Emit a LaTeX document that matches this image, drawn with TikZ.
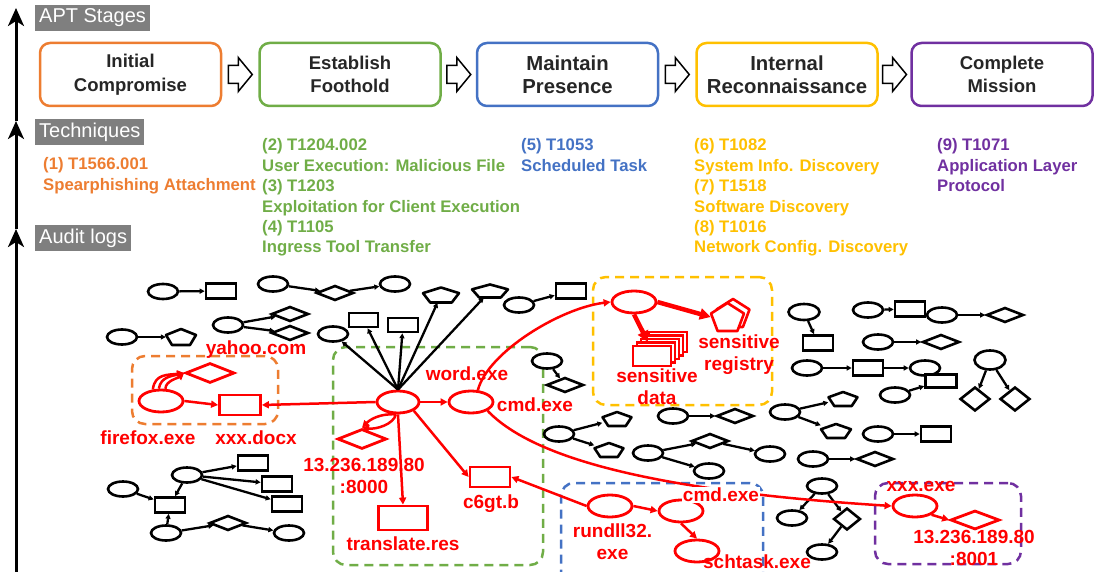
\documentclass[tikz,border=0pt]{standalone}
\usepackage{fontspec}
\setmainfont{Liberation Sans}
\usetikzlibrary{arrows.meta,shapes.geometric,calc}
\definecolor{cOr}{HTML}{ED7D31}
\definecolor{cGr}{HTML}{70AD47}
\definecolor{cBl}{HTML}{4472C4}
\definecolor{cYe}{HTML}{FFC000}
\definecolor{cPu}{HTML}{7030A0}
\definecolor{cRd}{HTML}{FF0000}
\definecolor{cGy}{HTML}{7F7F7F}
\definecolor{cTx}{HTML}{262626}
\tikzset{
 shp/.style={draw=black, line width=2.6pt, inner sep=0pt, fill=white},
 ell/.style={shp, ellipse, minimum width=30pt, minimum height=15pt},
 rec/.style={shp, rectangle, minimum width=30pt, minimum height=15pt},
 dia/.style={shp, diamond, minimum width=37pt, minimum height=15pt},
 rshp/.style={draw=cRd, line width=2.8pt, inner sep=0pt, fill=white},
 rell/.style={rshp, ellipse, minimum width=44pt, minimum height=22pt},
 rrec/.style={rshp, rectangle, minimum width=40pt, minimum height=20pt},
 rdia/.style={rshp, diamond, minimum width=49pt, minimum height=20pt},
 ed/.style={draw=black, line width=2.3pt, -{Triangle[length=5pt,width=5pt]}},
 redge/.style={draw=cRd, line width=2.5pt, -{Triangle[length=7pt,width=7pt]}},
 thk/.style={draw=cRd, line width=4.5pt, -{Triangle[length=11pt,width=11pt]}},
 lbl/.style={text=cRd, font=\fontsize{19}{22}\selectfont\bfseries, align=center, inner sep=0pt},
 stage/.style={draw=#1, line width=2.5pt, rounded corners=10pt, minimum width=181pt, minimum height=63pt, align=center, text=cTx, font=\fontsize{18.5}{23.5}\selectfont\bfseries},
 bigstage/.style={font=\fontsize{20.3}{23.5}\selectfont\bfseries},
 grp/.style={draw=#1, line width=2.5pt, rounded corners=13pt, dash pattern=on 9pt off 6pt, inner sep=0pt},
 gbox/.style={fill=cGy, text=white, font=\fontsize{20}{24}\selectfont, inner xsep=4pt, inner ysep=0pt, minimum height=26pt, anchor=west},
 tech/.style={text=#1, font=\fontsize{16.7}{20.4}\selectfont\bfseries, align=left, inner sep=0pt, anchor=north west},
 hollow/.style={draw=black, line width=1.5pt, fill=white, line join=miter},
 vaxis/.style={line width=3pt, -{Stealth[length=18pt,width=16pt,inset=5pt]}}
}
\newcommand\pentag[6]{%
 \node[inner sep=0pt, minimum width={2*#4}, minimum height={2*#5}] (#1) at (#2,#3) {};
 \draw[draw=#6, line width=2.6pt, line join=round, fill=white] (#1.center) ++(0,{-#5}) -- ++({#4},{0.75*#5}) -- ++({-0.4*#4},{1.25*#5}) -- ++({-1.2*#4},0) -- ++({-0.4*#4},{-1.25*#5}) -- cycle;}
\begin{document}
\begin{tikzpicture}[x=1pt,y=-1pt]
\useasboundingbox (0,0) rectangle (1095,572);
\clip (0,0) rectangle (1095,572);
% ---- axis ----
\coordinate (ax0) at (16,575);
\coordinate (ax1) at (16,229);
\coordinate (ax2) at (16,121);
\coordinate (ax3) at (16,8);
\draw[vaxis] (ax0) -- (ax1);
\draw[vaxis] (ax1) -- (ax2);
\draw[vaxis] (ax2) -- (ax3);
\node[gbox] (g1) at (35,18) {APT Stages};
\node[gbox] (g2) at (35,132) {Techniques};
\node[gbox] (g3) at (35,238) {Audit logs};
% ---- stages ----
\node[stage=cOr] (st1) at (130.5,74.5) {Initial\\Compromise};
\node[stage=cGr] (st2) at (350,74.5) {Establish\\Foothold};
\node[stage=cBl, bigstage] (st3) at (567.5,74.5) {Maintain\\Presence};
\node[stage=cYe, bigstage] (st4) at (787,74.5) {Internal\\Reconnaissance};
\node[stage=cPu] (st5) at (1002,74.5) {Complete\\Mission};
\foreach \a/\b in {st1/st2,st2/st3,st3/st4,st4/st5}{
 \draw[hollow] ($(\a.east)!0.5!(\b.west)$) ++(-12,-9) -- ++(10,0) -- ++(0,-8) -- ++(14,17) -- ++(-14,17) -- ++(0,-8) -- ++(-10,0) -- cycle;
}
% ---- techniques ----
\node[tech=cOr] (t1) at (43,157.5) {(1) T1566.001\\Spearphishing Attachment};
\node[tech=cGr] (t2) at (262,138.5) {(2) T1204.002\\User Execution: Malicious File\\(3) T1203\\Exploitation for Client Execution\\(4) T1105\\Ingress Tool Transfer};
\node[tech=cBl] (t3) at (521,138.5) {(5) T1053\\Scheduled Task};
\node[tech=cYe] (t4) at (694,138.5) {(6) T1082\\System Info. Discovery\\(7) T1518\\Software Discovery\\(8) T1016\\Network Config. Discovery};
\node[tech=cPu] (t5) at (937,138.5) {(9) T1071\\Application Layer\\Protocol};
% ---- groups ----
\node[grp=cOr, minimum width=146pt, minimum height=68pt] (gOr) at (205,390) {};
\node[grp=cGr, minimum width=210pt, minimum height=218pt] (gGr) at (438,456) {};
\node[grp=cYe, minimum width=179pt, minimum height=128pt] (gYe) at (682.5,341) {};
\node[grp=cBl, minimum width=202pt, minimum height=117pt] (gBl) at (662,541.5) {};
\node[grp=cPu, minimum width=146pt, minimum height=81pt] (gPu) at (948,523.5) {};
% ---- black audit-log graph ----
\node[ell] (a1) at (163,291.5) {};
\node[rec] (a2) at (221,291) {};
\node[ell] (b1) at (273,284) {};
\node[dia] (b2) at (335,293) {};
\node[ell] (b3) at (395,284) {};
\node[ell] (c1) at (228,325) {};
\node[dia] (c2) at (290,314) {};
\node[dia] (c3) at (290,333) {};
\node[ell] (d1) at (122,337) {};
\pentag{d2}{181}{337}{15}{8}{black}
\node[ell] (s1) at (333,334) {};
\node[rec, minimum width=29pt, minimum height=14pt] (s2) at (363.5,320) {};
\node[rec, minimum width=30pt, minimum height=14pt] (s3) at (403,325) {};
\pentag{s4}{441}{295}{18}{7.5}{black}
\pentag{s5}{490}{291}{18}{6.5}{black}
\node[ell] (e1) at (519,305) {};
\node[rec] (e2) at (571,291) {};
\node[ell] (f1) at (547,361) {};
\node[dia] (f2) at (565,385) {};
\node[ell] (g1n) at (559,434) {};
\pentag{g2n}{617}{419}{14.5}{7}{black}
\pentag{g3n}{609}{450}{14.5}{7}{black}
\node[ell] (h1) at (673,416) {};
\node[dia] (h2) at (735,416) {};
\node[ell] (i1) at (648,453) {};
\node[dia] (i2) at (710,441) {};
\node[ell] (i3) at (770,454) {};
\node[ell] (i4) at (709,471) {};
\node[ell] (j1) at (785,412) {};
\pentag{j2}{843}{399}{14.5}{7}{black}
\pentag{j3}{836}{431}{15}{7}{black}
\node[ell] (k1) at (813,459) {};
\node[dia] (k2) at (875,459) {};
\node[ell] (l1) at (878,434) {};
\node[rec] (l2) at (936,434) {};
\node[ell, minimum width=31pt, minimum height=16pt] (m1) at (804,312) {};
\node[rec] (m2) at (818,343) {};
\node[ell] (n1) at (868,310) {};
\node[rec] (n2) at (910,309) {};
\node[ell] (o1) at (942,315) {};
\node[dia] (o2) at (1005,315) {};
\node[ell] (p1) at (878,342) {};
\node[dia] (p2) at (941,342) {};
\node[ell] (q1) at (807,368) {};
\node[rec] (q2) at (868,368) {};
\node[ell] (q3) at (925,368) {};
\node[ell] (r1) at (895,395) {};
\node[rec, minimum width=31pt, minimum height=13pt] (r2) at (941,381) {};
\node[ell, minimum width=31pt, minimum height=19pt] (t1n) at (990,360) {};
\node[dia, minimum width=30pt, minimum height=24pt] (t2n) at (975,399) {};
\node[dia, minimum width=30pt, minimum height=24pt] (t3n) at (1015,399) {};
\node[ell] (u1) at (822,486) {};
\node[ell] (u2) at (792,518) {};
\node[dia, minimum width=27pt, minimum height=22pt] (u3) at (847,519) {};
\node[ell] (u4) at (822,552) {};
\node[ell] (v1) at (187,475) {};
\node[rec] (v2) at (253,463) {};
\node[rec] (v3) at (277,484) {};
\node[rec] (v4) at (287,504) {};
\node[rec] (v5) at (170,505) {};
\node[ell] (v6) at (123,489) {};
\node[ell] (v7) at (166,533) {};
\node[dia] (v8) at (228,523) {};
\node[ell] (v9) at (289,533) {};
\foreach \p/\q in {a1/a2,b1/b2,b2/b3,c1/c2,c1/c3,d1/d2,e1/e2,f1/f2,g1n/g2n,g1n/g3n,h1/h2,i1/i2,i2/i3,i1/i4,j1/j2,j1/j3,k1/k2,l1/l2,m1/m2,n1/n2,o1/o2,p1/p2,q1/q2,q2/q3,r1/r2,t1n/t2n,t1n/t3n,u1/u2,u1/u3,u3/u4,v1/v2,v1/v3,v1/v4,v1/v5,v6/v5,v7/v5,v7/v8,v8/v9}
 \draw[ed] (\p) -- (\q);
% ---- red attack graph ----
\node[rell] (ff) at (161,401) {};
\node[rdia] (yh) at (210,373) {};
\node[rrec, minimum width=41pt] (dx) at (240,405) {};
\node[rell, minimum width=42pt] (wd) at (398,402) {};
\node[rell] (cm) at (471,402) {};
\node[rdia] (ipd) at (362,439) {};
\node[rrec, minimum width=49pt, minimum height=24pt] (tr) at (403,518) {};
\node[rrec] (c6) at (490,477) {};
\node[rell] (se) at (634,302) {};
\foreach \k in {4,3,2,1,0}
 \node[rshp, line width=2.2pt, minimum width=38pt, minimum height=20pt] (sd\k) at ({652+4*\k},{356-3.5*\k}) {};
\pentag{srb}{733}{313}{16.5}{14}{cRd}
\pentag{sr}{727.5}{317}{16.5}{14}{cRd}
\node[rell] (rd) at (610,506) {};
\node[rell] (cm2) at (681,511) {};
\node[rell] (st) at (697,551) {};
\node[rell] (xe) at (915,506) {};
\node[rdia, minimum height=19pt] (ip2) at (975,520) {};
% star from word.exe
\foreach \q in {s1,s2,s3,s4,s5}
 \draw[ed] (wd.north) -- (\q);
\draw[redge] (ff.east) -- (dx.west);
\draw[redge] (ff.125) .. controls +(2,-16) and +(-16,2) .. (yh.west);
\draw[redge] (ff.100) .. controls +(2,-12) and +(-12,3) .. (yh.west);
\draw[redge] (ff.70) .. controls +(0,-8) and +(-6,5) .. (yh.west);
\draw[redge] (wd.west) -- (dx.east);
\draw[redge] (wd.east) -- (cm.west);
\draw[redge] (wd.260) .. controls +(-16,-1) and +(8,-8) .. (ipd.north);
\draw[redge] (wd.260) .. controls +(-2,10) and +(14,2) .. (ipd.north);
\draw[redge] (wd.south) -- (tr.north);
\draw[redge] (wd.south east) -- (c6.west);
\draw[redge] (rd.west) -- (c6.east);
\draw[redge] (rd.east) -- (cm2.west);
\draw[redge] (cm2.south) -- (st.north);
\draw[redge] (xe.south east) -- (ip2.west);
\draw[redge] (cm.60) .. controls +(10,-38) and +(-50,6) .. (se.west);
\draw[redge] (cm.south east) .. controls (530,455) and (640,490) .. (xe.west);
\draw[thk] (se.south) -- (sd4.west);
\draw[thk] (se.east) -- (sr.west);
% ---- labels ----
\node[lbl] (lyh) at (256,349.5) {yahoo.com};
\node[lbl] (lff) at (148,437.5) {firefox.exe};
\node[lbl] (ldx) at (256,437.5) {xxx.docx};
\node[lbl] (lwd) at (467,374) {word.exe};
\node[lbl] (lcm) at (535,405) {cmd.exe};
\node[lbl] (lip) at (364,475.5) {13.236.189.80\\:8000};
\node[lbl] (ltr) at (403,544) {translate.res};
\node[lbl] (lc6) at (491,503.5) {c6gt.b};
\node[lbl] (lsd) at (657,387) {sensitive\\data};
\node[lbl] (lsr) at (739,355) {sensitive\\registry};
\node[lbl] (lrd) at (612.5,541.5) {rundll32.\\exe};
\node[lbl, fill=white, inner sep=1pt] (lcm2) at (721,495) {cmd.exe};
\node[lbl] (lst) at (757,561.5) {schtask.exe};
\node[lbl] (lxe) at (921,486) {xxx.exe};
\node[lbl] (lip2) at (974,548) {13.236.189.80\\:8001};
\end{tikzpicture}
\end{document}
